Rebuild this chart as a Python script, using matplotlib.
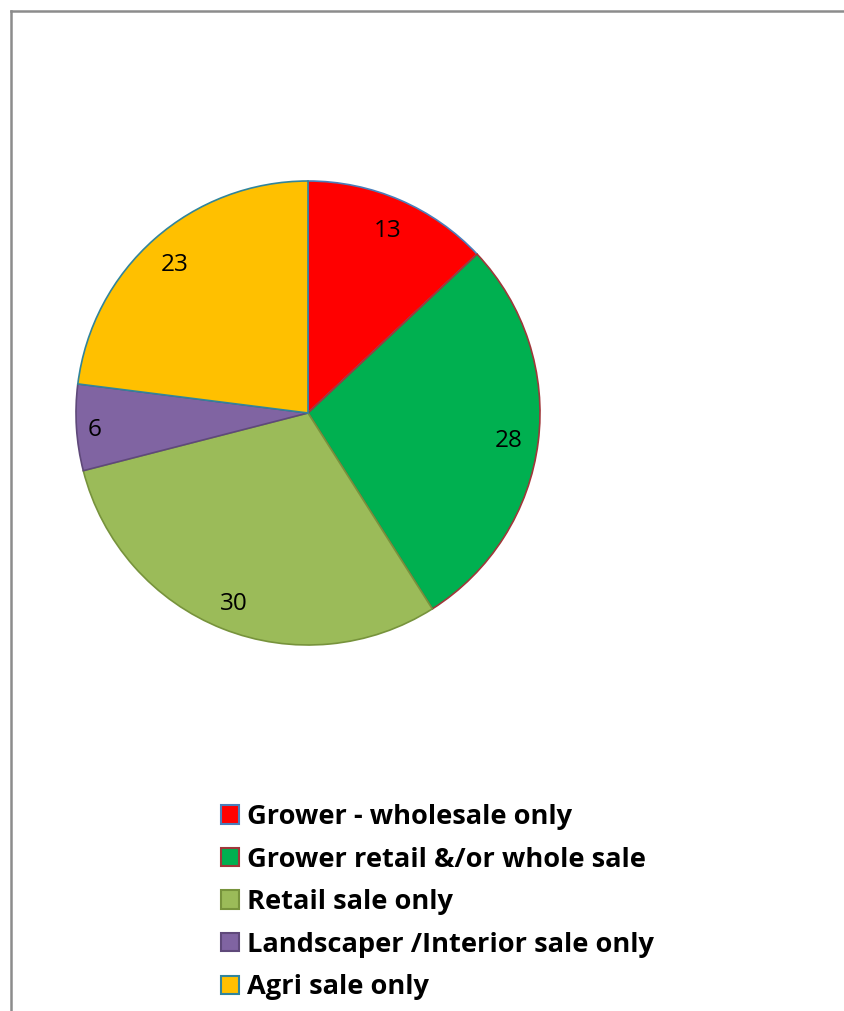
import matplotlib.pyplot as plt
import matplotlib.patches as patches
from matplotlib.lines import Line2D

categories = ['Grower - wholesale only', 'Grower retail &/or whole sale',
              'Retail sale only', 'Landscaper /Interior sale only', 'Agri sale only']
values = [13, 28, 30, 6, 23]
colors = ['#FF0000', '#00B050', '#9BBB59', '#8064A2', '#FFC000']
edges = ['#4A7EBB', '#A0373A', '#77933C', '#5F497A', '#31859C']

W, H = 844, 1011
fig = plt.figure(figsize=(W / 100, H / 100), dpi=100)

# outer chart frame (left and top edges only are visible)
fig.add_artist(Line2D([10.5 / W, 10.5 / W], [0, 1 - 11 / H], color='#8C8C8C', lw=1.8,
                      transform=fig.transFigure))
fig.add_artist(Line2D([10.5 / W, 1], [1 - 11 / H, 1 - 11 / H], color='#8C8C8C', lw=1.8,
                      transform=fig.transFigure))

cx, cy, r = 308, 413, 232
ax = fig.add_axes([(cx - r) / W, (H - cy - r) / H, 2 * r / W, 2 * r / H])
wedges, texts = ax.pie(values, colors=colors, labels=[str(v) for v in values],
                       startangle=90, counterclock=False, labeldistance=0.87,
                       wedgeprops=dict(linewidth=1.2))
for w, e in zip(wedges, edges):
    w.set_edgecolor(e)
for t in texts:
    t.set_fontsize(17.5)
    t.set_fontfamily('Open Sans')
    t.set_ha('center')
    t.set_va('center_baseline')
texts[3].set_position((-0.92, -0.06))
ax.set_xlim(-1, 1)
ax.set_ylim(-1, 1)
ax.set_aspect('equal')
ax.axis('off')

handles = [patches.Patch(facecolor=c, edgecolor=e, linewidth=1.5) for c, e in zip(colors, edges)]
fig.legend(handles, categories, loc='upper left', bbox_to_anchor=(221 / W, 1 - 804 / H),
           frameon=False, prop={'family': 'Open Sans', 'weight': 'bold', 'size': 19.6},
           handlelength=0.66, handleheight=0.66, handletextpad=0.28, labelspacing=0.61,
           borderpad=0, borderaxespad=0)

fig.savefig('out.png', dpi=100)
